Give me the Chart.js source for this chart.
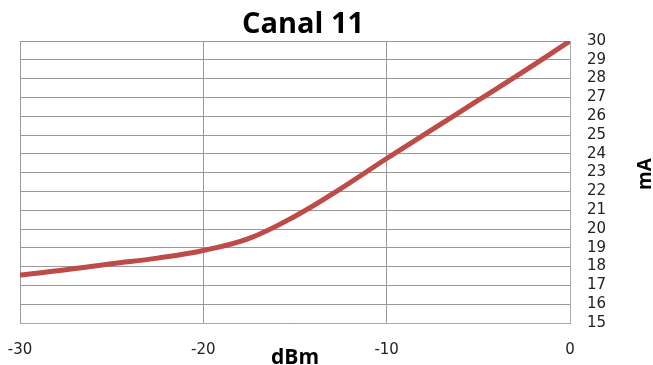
<!DOCTYPE html>
<html>
<head>
<meta charset="utf-8">
<script src="https://cdn.jsdelivr.net/npm/chart.js@4"></script>
<style>
  html, body { margin: 0; padding: 0; background: #fff; }
  #wrap { width: 653px; height: 365px; position: relative; }
</style>
</head>
<body>
<div id="wrap"><canvas id="canalChart"></canvas></div>
<script>
// Input power (dBm) vs current (mA)
const powerDbm = [-30, -27.5, -25, -22.5, -20, -17.5, -15, -12.5, -10, -7.5, -5, -2.5, 0];
const currentMa = [17.55, 17.83, 18.15, 18.45, 18.86, 19.5, 20.68, 22.15, 23.75, 25.3, 26.85, 28.4, 30];
const xTicks = [-30, -20, -10, 0];
const chartTitle = 'Canal 11';
const xTitle = 'dBm';
const yTitle = 'mA';

const TICK_FONT = "'DejaVu Sans', sans-serif";
const BOLD_FONT = "'Open Sans', sans-serif";

// Titles drawn by hand: the chart title sits a little right of the plot centre
// and "dBm" shares the row of the x tick labels, which the axis title can't do.
const textPlugin = {
    id: 'extraText',
    afterDraw(chart) {
        const { ctx, chartArea } = chart;
        const cx = (chartArea.left + chartArea.right) / 2;
        const cy = (chartArea.top + chartArea.bottom) / 2;
        ctx.save();
        ctx.fillStyle = '#000';
        ctx.textAlign = 'center';
        ctx.textBaseline = 'alphabetic';
        ctx.font = "bold 29px " + BOLD_FONT;
        ctx.fillText(chartTitle, cx + 8, 33);
        ctx.font = "bold 21px " + BOLD_FONT;
        ctx.fillText(xTitle, cx, 364);
        // y title reads bottom to top
        ctx.translate(chartArea.right + 76, cy - 8);
        ctx.rotate(-Math.PI / 2);
        ctx.textBaseline = 'middle';
        ctx.font = "bold 19px " + BOLD_FONT;
        ctx.fillText(yTitle, 0, 0);
        ctx.restore();
    }
};

const ctx = document.getElementById('canalChart').getContext('2d');
new Chart(ctx, {
    type: 'line',
    data: {
        datasets: [{
            data: powerDbm.map((x, i) => ({ x: x, y: currentMa[i] })),
            borderColor: '#be4b48',
            borderWidth: 5,
            pointRadius: 0,
            tension: 0.4,
            fill: false
        }]
    },
    options: {
        responsive: true,
        maintainAspectRatio: false,
        animation: false,
        layout: { padding: { top: 41, left: 20, right: 0, bottom: 0 } },
        plugins: { legend: { display: false }, tooltip: { enabled: false } },
        scales: {
            x: {
                type: 'linear',
                min: -30,
                max: 0,
                afterBuildTicks: (scale) => { scale.ticks = xTicks.map(v => ({ value: v })); },
                afterFit: (scale) => {
                    scale.height = 42;
                    scale.paddingLeft = 0;
                    scale.paddingRight = 0;
                },
                grid: { color: '#999', lineWidth: 1, drawTicks: false },
                border: { color: '#aaa' },
                ticks: { padding: 18, color: '#222', maxRotation: 0, font: { family: TICK_FONT, size: 15 } }
            },
            y: {
                position: 'right',
                min: 15,
                max: 30,
                afterFit: (scale) => { scale.width = 83; },
                grid: { color: '#999', lineWidth: 1, drawTicks: false },
                border: { color: '#aaa' },
                ticks: { stepSize: 1, autoSkip: false, padding: 17, color: '#222', font: { family: TICK_FONT, size: 15 } }
            }
        }
    },
    plugins: [textPlugin]
});
</script>
</body>
</html>
